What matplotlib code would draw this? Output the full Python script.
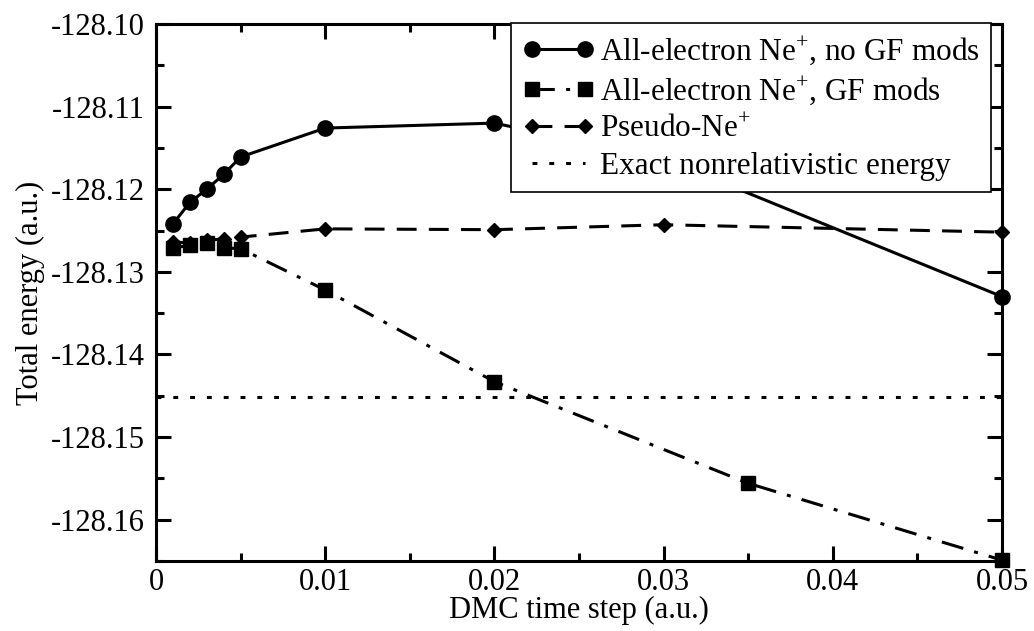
import matplotlib
matplotlib.use('Agg')
import matplotlib.pyplot as plt
from matplotlib.ticker import MultipleLocator, FormatStrFormatter

plt.rcParams['font.family'] = 'Liberation Serif'
plt.rcParams['mathtext.fontset'] = 'custom'
plt.rcParams['mathtext.rm'] = 'Liberation Serif'
plt.rcParams['axes.unicode_minus'] = False

# all-electron Ne+, no Green's function modifications
dt_ae = [0.001, 0.002, 0.003, 0.004, 0.005, 0.01, 0.02, 0.03, 0.05]
e_ae = [-128.1242, -128.1216, -128.1200, -128.1182, -128.1161,
        -128.1126, -128.1120, -128.1163, -128.1330]

# all-electron Ne+, with GF mods
dt_gf = [0.001, 0.002, 0.003, 0.004, 0.005, 0.01, 0.02, 0.035, 0.05]
e_gf = [-128.1271, -128.1268, -128.1265, -128.1271, -128.1272,
        -128.1322, -128.1433, -128.1556, -128.1649]

# pseudo Ne+
dt_ps = [0.001, 0.002, 0.003, 0.004, 0.005, 0.01, 0.02, 0.03, 0.05]
e_ps = [-128.1264, -128.1265, -128.1262, -128.1260, -128.1258,
        -128.1248, -128.1249, -128.1243, -128.1252]

# exact nonrelativistic energy
dt_ex = [0.0, 0.05]
e_exact = -128.1451

x_ticks = [0, 0.01, 0.02, 0.03, 0.04, 0.05]
x_labels = ['0', '0.01', '0.02', '0.03', '0.04', '0.05']

fig = plt.figure(figsize=(10.34, 6.31), dpi=100)
ax = fig.add_axes([0.1509, 0.111, 0.8181, 0.851])

lw = 2.2
ax.plot(dt_ae, e_ae, '-', color='black', lw=lw, marker='o', ms=11,
        clip_on=False, zorder=4,
        label=r'All-electron Ne$^{+}$, no GF mods')
ax.plot(dt_gf, e_gf, color='black', lw=lw, marker='s', ms=9.5,
        dashes=(7.3, 3.7, 1.3, 3.7), clip_on=False, zorder=4,
        label=r'All-electron Ne$^{+}$, GF mods')
ax.plot(dt_ps, e_ps, color='black', lw=lw, marker='D', ms=7.5,
        dashes=(6.5, 4), clip_on=False, zorder=4,
        label=r'Pseudo-Ne$^{+}$')
ax.plot(dt_ex, [e_exact] * len(dt_ex), color='black', lw=lw,
        dashes=(1.6, 3.9),
        label='Exact nonrelativistic energy')

ax.set_xlim(0, 0.05)
ax.set_ylim(-128.165, -128.10)
ax.set_xticks(x_ticks)
ax.set_xticklabels(x_labels)
ax.xaxis.set_minor_locator(MultipleLocator(0.005))
ax.yaxis.set_major_locator(MultipleLocator(0.01))
ax.yaxis.set_minor_locator(MultipleLocator(0.005))
ax.yaxis.set_major_formatter(FormatStrFormatter('%.2f'))

for s in ax.spines.values():
    s.set_linewidth(2.2)
ax.tick_params(which='both', direction='in', top=True, right=True,
               width=2.2, labelsize=22)
ax.tick_params(axis='y', pad=8)
ax.tick_params(axis='x', pad=5)
ax.tick_params(which='major', length=11)
ax.tick_params(which='minor', length=6)

ax.set_xlabel('DMC time step (a.u.)', fontsize=22, labelpad=-1)
ax.set_ylabel('Total energy (a.u.)', fontsize=22, labelpad=4)

leg = ax.legend(loc='upper right', bbox_to_anchor=(0.9584, 0.9635),
                bbox_transform=fig.transFigure, fontsize=22.5,
                numpoints=2, handlelength=2.3, handletextpad=0.2,
                labelspacing=0.25, borderpad=0.35, borderaxespad=0,
                fancybox=False, framealpha=1, edgecolor='black')
leg.get_frame().set_linewidth(1.2)
leg.set_zorder(5)

plt.savefig('out.png', dpi=100)
